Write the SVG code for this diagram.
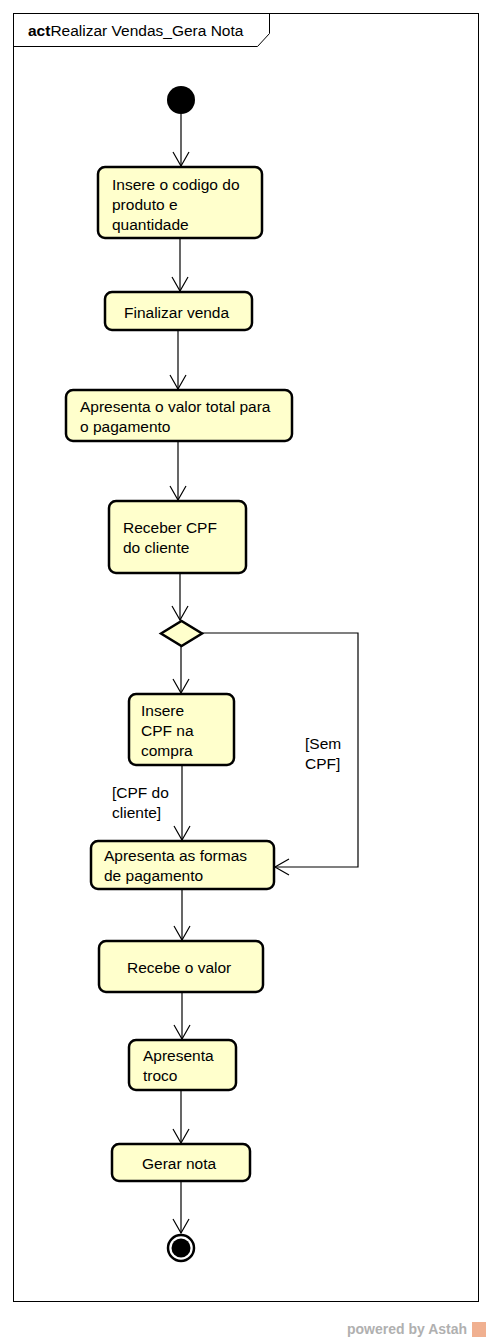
<svg xmlns="http://www.w3.org/2000/svg" width="492" height="1342" viewBox="0 0 492 1342">
<style>
text{font-family:"Liberation Sans",Arial,sans-serif;font-size:15.5px;fill:#000}
.act{fill:#ffffcc;stroke:#000;stroke-width:2.5}
.e{fill:none;stroke:#000;stroke-width:1.2}
</style>
<defs>
<marker id="arr" viewBox="-16 -9 18 18" refX="0" refY="0" markerWidth="18" markerHeight="18" markerUnits="userSpaceOnUse" orient="auto">
<path d="M-14,-8 L0,0 L-14,8" fill="none" stroke="#000" stroke-width="1.2"/>
</marker>
</defs>
<rect x="0" y="0" width="492" height="1342" fill="#fff"/>
<g id="frame">
<rect x="13.5" y="13.5" width="465" height="1288" fill="none" stroke="#000" stroke-width="1"/>
<path d="M13.5,46.5 H257.5 L269.5,33.5 V13.5" fill="none" stroke="#000" stroke-width="1"/>
<text x="28" y="36"><tspan font-weight="bold">act</tspan>Realizar Vendas_Gera Nota</text>
</g>
<g id="connectors">
<path class="e" d="M181,114 V166" marker-end="url(#arr)"/>
<path class="e" d="M180,238 V291" marker-end="url(#arr)"/>
<path class="e" d="M178,330 V389" marker-end="url(#arr)"/>
<path class="e" d="M178,441 V500" marker-end="url(#arr)"/>
<path class="e" d="M180,573 V620" marker-end="url(#arr)"/>
<path class="e" d="M181,646 V693" marker-end="url(#arr)"/>
<path class="e" d="M182,765 V840" marker-end="url(#arr)"/>
<path class="e" d="M202,633 H358 V867 H275" marker-end="url(#arr)"/>
<path class="e" d="M182,889 V940" marker-end="url(#arr)"/>
<path class="e" d="M182,992 V1039" marker-end="url(#arr)"/>
<path class="e" d="M181,1090 V1143" marker-end="url(#arr)"/>
<path class="e" d="M181,1181 V1233" marker-end="url(#arr)"/>
<text x="112" y="798">[CPF do</text>
<text x="112" y="818">cliente]</text>
<text x="305" y="749">[Sem</text>
<text x="305" y="769">CPF]</text>
</g>
<g id="start"><circle cx="181" cy="100" r="14" fill="#000"/></g>
<g id="n1">
<rect class="act" x="98" y="167" width="164" height="71" rx="7"/>
<text x="112" y="190">Insere o codigo do</text>
<text x="112" y="210">produto e</text>
<text x="112" y="230">quantidade</text>
</g>
<g id="n2">
<rect class="act" x="105" y="292" width="147" height="38" rx="7"/>
<text x="124" y="318">Finalizar venda</text>
</g>
<g id="n3">
<rect class="act" x="66" y="390" width="226" height="51" rx="7"/>
<text x="80" y="412">Apresenta o valor total para</text>
<text x="80" y="432">o pagamento</text>
</g>
<g id="n4">
<rect class="act" x="109" y="501" width="137" height="72" rx="7"/>
<text x="123" y="533">Receber CPF</text>
<text x="123" y="553">do cliente</text>
</g>
<g id="decision">
<polygon points="161,633.5 181.5,621 202,633.5 181.5,646" fill="#ffffcc" stroke="#000" stroke-width="2.5"/>
</g>
<g id="n5">
<rect class="act" x="129" y="694" width="105" height="71" rx="7"/>
<text x="141" y="716">Insere</text>
<text x="141" y="736">CPF na</text>
<text x="141" y="756">compra</text>
</g>
<g id="n6">
<rect class="act" x="91" y="841" width="183" height="48" rx="7"/>
<text x="104" y="861">Apresenta as formas</text>
<text x="104" y="881">de pagamento</text>
</g>
<g id="n7">
<rect class="act" x="99" y="941" width="164" height="51" rx="7"/>
<text x="127" y="973">Recebe o valor</text>
</g>
<g id="n8">
<rect class="act" x="129" y="1040" width="107" height="50" rx="7"/>
<text x="143" y="1061">Apresenta</text>
<text x="143" y="1081">troco</text>
</g>
<g id="n9">
<rect class="act" x="112" y="1144" width="138" height="37" rx="7"/>
<text x="142" y="1169">Gerar nota</text>
</g>
<g id="final">
<circle cx="181" cy="1248" r="13" fill="#fff" stroke="#000" stroke-width="2.5"/>
<circle cx="181" cy="1248" r="9.5" fill="#000"/>
</g>
<g id="footer">
<text x="347" y="1334" font-weight="bold" style="fill:#b0b0b0;font-size:14px">powered by Astah</text>
<rect x="472" y="1322" width="14" height="15" fill="#f0b090"/>
</g>
</svg>
